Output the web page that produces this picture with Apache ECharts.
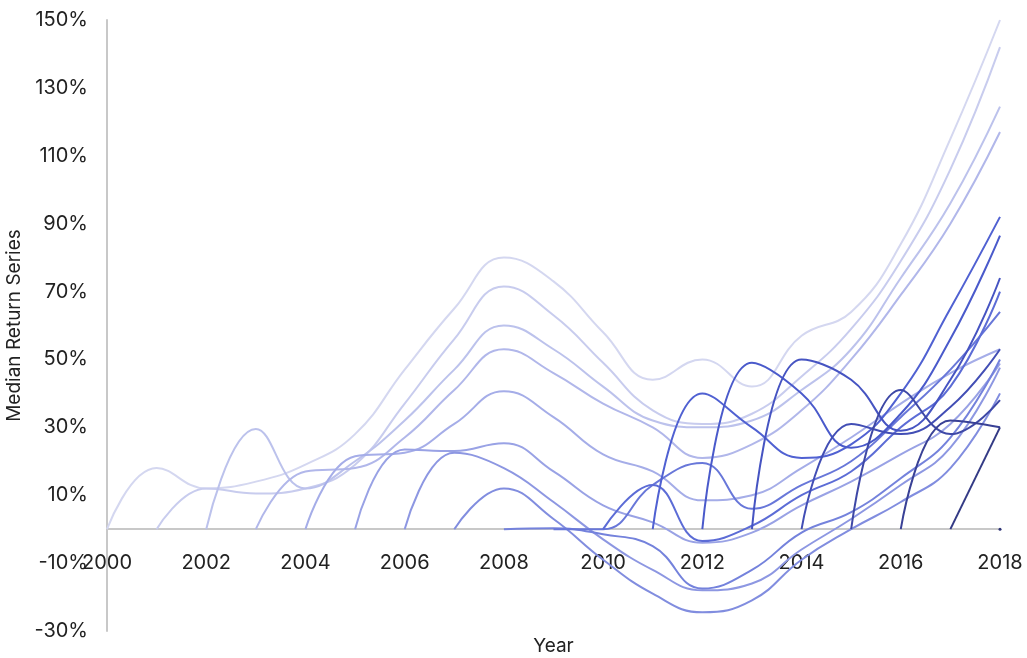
<!DOCTYPE html>
<html>
<head>
<meta charset="utf-8">
<script src="https://cdn.jsdelivr.net/npm/echarts@6/dist/echarts.min.js"></script>
<style>
html,body{margin:0;padding:0;background:#fff;}
#chart{width:1027px;height:658px;}
</style>
</head>
<body>
<div id="chart"></div>
<script>
// Years on the x axis
const years = [2000,2001,2002,2003,2004,2005,2006,2007,2008,2009,2010,2011,2012,2013,2014,2015,2016,2017,2018];
// Each cohort series starts at its start year (value 0) and runs to 2018 (percent)
const startYears = [2000,2001,2002,2003,2004,2005,2006,2007,2008,2009,2010,2011,2012,2013,2014,2015,2016,2017,2018];
const c2000 = [0, 18, 12, 14, 19, 28, 47, 65, 80, 73, 58, 44, 50, 42, 57, 64, 84, 115, 150];
const c2001 = [0, 12, 10.5, 12, 19, 37, 56, 71.5, 63, 49, 35, 31, 34, 45, 59, 79, 106, 142];
const c2002 = [0, 29.5, 12, 20, 32, 47, 60, 53, 42, 32, 30, 32, 41, 53, 74, 96, 124.5];
const c2003 = [0, 17, 18, 27, 41, 53, 46, 37, 30, 21, 25, 35, 50, 69, 90, 117];
const c2004 = [0, 21.5, 22.5, 31, 40.6, 33, 22, 17, 8.5, 10, 18, 27, 37, 46, 53];
const c2005 = [0, 23.5, 23, 25.3, 17, 7, 2, -4, -1, 7, 14, 22, 31, 48.8];
const c2006 = [0, 22.5, 18, 8, -3, -12, -18, -16, -6, 3, 13, 24, 47.6];
const c2007 = [0, 12, 3, -9, -19, -24.5, -21, -9, 0, 8, 18, 40];
const c2008 = [0, 0.3, -1.5, -5, -17.5, -12, -1, 5, 15, 27, 50];
const c2009 = [0, 0, 13, 19.5, 6, 13, 20, 33, 47, 64];
const c2010 = [0, 13, -3.5, 1, 10, 17, 30, 42, 70];
const c2011 = [0, 40, 30, 21, 25, 40, 65, 92];
const c2012 = [0, 49, 40, 24, 34, 56, 86.5];
const c2013 = [0, 50, 44, 29, 44, 74];
const c2014 = [0, 31, 28, 36, 53];
const c2015 = [0, 41, 28, 38];
const c2016 = [0, 32, 30];
const c2017 = [0, 30];
const c2018 = [0];
const cohorts = [c2000,c2001,c2002,c2003,c2004,c2005,c2006,c2007,c2008,c2009,c2010,c2011,c2012,c2013,c2014,c2015,c2016,c2017,c2018];
// Y tick range (percent)
const yMin = -30, yMax = 150, yStep = 20;

const colors = ['#d4d7f0','#c8ccee','#bcc2ec','#b1b7ea','#a5ade8','#99a2e5','#8d97e2','#818ddf','#7482dc','#6877d9','#5c6cd6','#5061d2','#4a5acb','#4654c2','#424eb5','#3e48a6','#394196','#333a85','#2d3375'];

const series = cohorts.map((vals, i) => ({
  type: 'line',
  name: String(startYears[i]),
  data: vals.map((v, k) => [startYears[i] + k, v]),
  smooth: 0.45,
  showSymbol: vals.length === 1,
  symbol: 'circle',
  symbolSize: 3,
  lineStyle: { width: 2, color: colors[i] },
  itemStyle: { color: colors[i] },
  z: 2 + i,
  animation: false
}));

const font = 'Inter, "Noto Sans", sans-serif';
const chart = echarts.init(document.getElementById('chart'));
chart.setOption({
  backgroundColor: '#fff',
  animation: false,
  grid: { left: 107, right: 27, top: 20, bottom: 27, containLabel: false, outerBoundsMode: 'none' },
  xAxis: {
    type: 'value', min: 2000, max: 2018, interval: 2,
    name: 'Year', nameLocation: 'middle', nameGap: 108,
    nameTextStyle: { fontFamily: font, fontSize: 19, color: '#222' },
    axisLine: { onZero: false, lineStyle: { color: '#c8c8c8', width: 2 } },
    axisTick: { show: false },
    splitLine: { show: false },
    axisLabel: { margin: 24, fontFamily: font, fontSize: 20, color: '#222', formatter: v => String(v) }
  },
  yAxis: {
    type: 'value', min: yMin, max: yMax, interval: yStep,
    name: 'Median Return Series', nameLocation: 'middle', nameGap: 76,
    nameTextStyle: { fontFamily: font, fontSize: 19, color: '#222' },
    axisLine: { show: true, onZero: false, lineStyle: { color: '#c8c8c8', width: 2 } },
    axisTick: { show: false },
    splitLine: { show: false },
    axisLabel: { margin: 19, fontFamily: font, fontSize: 20, color: '#222', formatter: v => v + '%' }
  },
  series: series
});
// Move the whole x axis (line, labels, name) up to the zero line
const zeroPx = chart.convertToPixel({ yAxisIndex: 0 }, 0);
const bottomPx = chart.convertToPixel({ yAxisIndex: 0 }, yMin);
chart.setOption({ xAxis: { offset: -(bottomPx - zeroPx) } });
</script>
</body>
</html>
